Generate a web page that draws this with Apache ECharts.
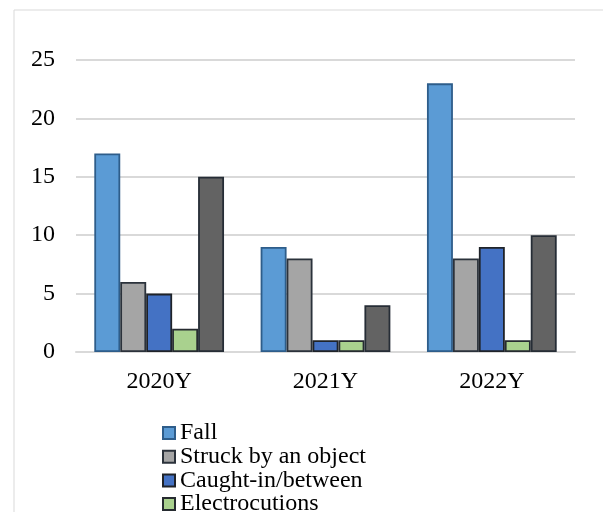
<!DOCTYPE html>
<html>
<head>
<meta charset="utf-8">
<script src="https://cdn.jsdelivr.net/npm/echarts@6/dist/echarts.min.js"></script>
<style>
  html, body { margin: 0; padding: 0; background: #fff; }
  #chart { width: 603px; height: 512px; }
</style>
</head>
<body>
<div id="chart"></div>
<script>
const years = ['2020Y', '2021Y', '2022Y'];
const fall = [17, 9, 23];
const struck = [6, 8, 8];
const caught = [5, 1, 9];
const electro = [2, 1, 1];
const others = [15, 4, 10];

const font = '"Liberation Serif", "Times New Roman", serif';

function bar(name, data, fill, border) {
  return {
    name: name,
    type: 'bar',
    data: data,
    barGap: '0%',
    barCategoryGap: '22%',
    itemStyle: { color: fill, borderColor: border, borderWidth: 1.8 }
  };
}

const chart = echarts.init(document.getElementById('chart'));
chart.setOption({
  animation: false,
  backgroundColor: '#fff',
  graphic: [{
    type: 'rect',
    shape: { x: 14, y: 10, width: 640, height: 540 },
    style: { fill: 'none', stroke: '#d9d9d9', lineWidth: 1 }
  }],
  grid: { left: 76, right: 28, top: 60, bottom: 160 },
  xAxis: {
    type: 'category',
    data: years,
    axisLine: { lineStyle: { color: '#d9d9d9', width: 2 } },
    axisTick: { show: false },
    axisLabel: { color: '#000', fontFamily: font, fontSize: 24, margin: 18 }
  },
  yAxis: {
    type: 'value',
    min: 0,
    max: 25,
    interval: 5,
    axisLine: { show: false },
    axisTick: { show: false },
    splitLine: { lineStyle: { color: '#d9d9d9', width: 2 } },
    axisLabel: { color: '#000', fontFamily: font, fontSize: 24, margin: 21 }
  },
  legend: {
    orient: 'vertical',
    left: 162,
    top: 421,
    height: 300,
    padding: 0,
    icon: 'rect',
    itemWidth: 12,
    itemHeight: 12,
    itemGap: -0.3,
    textStyle: { color: '#000', fontFamily: font, fontSize: 24, lineHeight: 23 }
  },
  series: [
    bar('Fall', fall, '#5b9bd5', '#2e5d8a'),
    bar('Struck by an object', struck, '#a5a5a5', '#2b323b'),
    bar('Caught-in/between', caught, '#4472c4', '#1f2329'),
    bar('Electrocutions', electro, '#a9d18e', '#262b30'),
    bar('Others', others, '#636363', '#262d36')
  ]
});
</script>
</body>
</html>
